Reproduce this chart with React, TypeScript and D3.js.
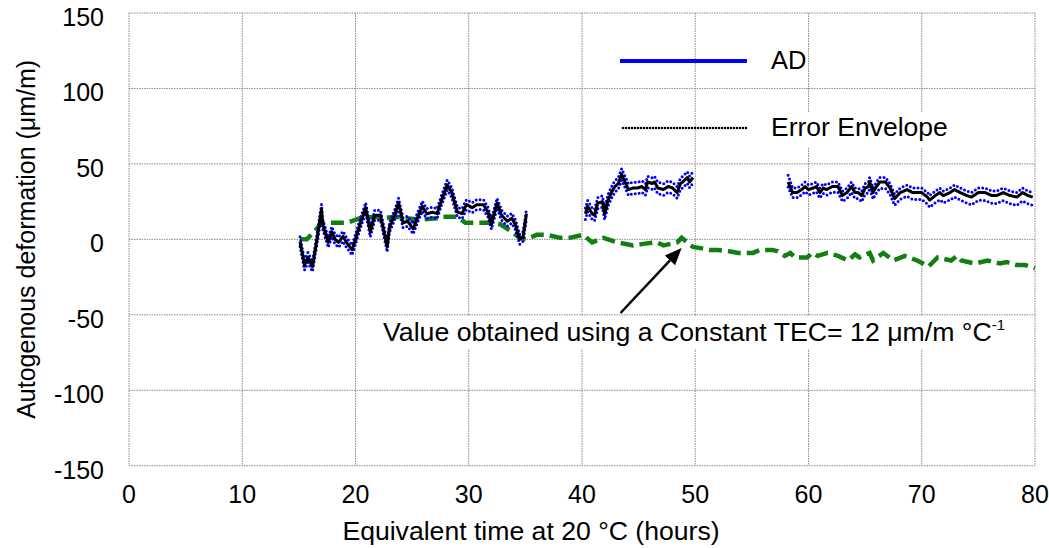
import React from "react";
import * as d3 from "d3";

// ---- data ----
const xTicks = [0, 10, 20, 30, 40, 50, 60, 70, 80];
const yTicks = [150, 100, 50, 0, -50, -100, -150];

const adTime1 = [15.1,15.5,15.8,16.2,16.6,17.0,17.1,17.6,17.9,18.2,18.5,18.9,19.2,19.7,20.0,20.4,20.9,21.3,21.7,22.2,22.8,23.0,23.5,23.8,24.2,24.6,25.1,25.4,25.9,26.3,26.8,27.2,27.6,28.1,28.5,29.0,29.4,29.8,30.3,30.7,31.3,31.7,32.0,32.5,32.9,33.4,33.8,34.1,34.5,34.8,35.1];
const adValue1 = [-1.5,-17,-12,-18,0,20,10,-2,5,0,-2,2,-2,-7,0,10,21,5,16,16,-5,8,17,24,11,12,7,13,22,17,18,17,26,36,31,18,17,23,21,23,23,18,10,24,16,12,14,10,0,2,17];
const errUp1 = [3.3];
const errDown1 = [3.3];

const adTime2 = [40.3,40.5,40.9,41.1,41.4,41.8,42.0,42.3,42.6,42.9,43.2,43.5,43.8,44.1,44.5,44.9,45.3,45.6,45.8,46.2,46.4,46.7,47.2,47.6,48.0,48.4,48.7,48.9,49.3,49.5,49.8];
const adValue2 = [17,22,17,16,24,25,17,26,31,35,37,43,38,33,34,34,35,33,38,37,38,34,33,35,34,31,37,38,41,38,41];
const errUp2 = [3.8];
const errDown2 = [3.8];

const adTime3 = [58.2,58.6,59.0,59.4,59.7,60.0,60.4,60.7,61.0,61.3,61.6,62.1,62.6,63.0,63.4,63.8,64.1,64.4,64.7,65.0,65.3,65.4,65.7,66.0,66.3,66.8,67.2,67.6,68.1,68.7,69.2,70.0,70.5,70.7,71.2,71.6,71.9,72.5,72.9,73.4,74.0,74.4,75.0,75.6,76.2,76.6,77.2,77.8,78.4,78.9,79.4,79.8];
const adValue3 = [38,31,31,33,35,33,34,35,31,34,33,35,35,29,31,35,31,31,29,34,35,38,31,35,38,38,34,27,31,33,31,31,28,26,29,31,29,31,33,31,29,28,31,31,29,29,31,29,28,31,29,28];
const errUp3 = [4.5,3.0,3.0,3.0,3.0,3.0,3.0,3.0,3.0,3.0,3.0,3.0,3.0,3.0,3.0,3.0,3.0,3.0,3.0,3.0,3.0,3.0,3.0,3.0,3.0,3.0,3.0,3.0,3.0,3.0,3.0,3.0,3.0,3.0,3.0,3.0,3.0,3.0,3.0,3.0,3.0,3.0,3.0,3.0,3.0,3.0,3.0,3.0,3.0,3.0,3.0,3.0];
const errDown3 = [3.3,3.3,3.3,3.4,3.4,3.5,3.5,3.5,3.6,3.6,3.7,3.7,3.8,3.8,3.9,3.9,4.0,4.0,4.0,4.1,4.1,4.1,4.2,4.2,4.2,4.3,4.3,4.4,4.4,4.5,4.5,4.6,4.6,4.7,4.7,4.8,4.8,4.9,4.9,5.0,5.0,5.1,5.1,5.2,5.2,5.3,5.3,5.4,5.4,5.5,5.5,5.5];

const tecTime = [15.1,15.7,16.7,17.1,18.5,19.3,20.4,21.7,22.4,23.5,24.5,25.7,27.2,27.7,29.0,29.7,31.0,31.9,32.8,33.6,34.5,35.1,36.0,36.9,38.1,38.9,40.1,40.9,41.9,43.1,44.5,45.4,46.6,47.2,48.4,48.8,49.8,50.6,51.3,52.0,53.1,53.8,55.1,55.7,56.8,57.3,57.9,58.4,58.8,59.9,60.3,60.8,61.7,62.6,63.5,64.1,64.5,65.4,65.7,66.6,67.5,68.5,69.6,70.6,71.4,72.6,73.1,73.5,74.7,75.8,76.9,77.5,78.4,79.1,80.0];
const tecValue = [0,0,8,11,11,11,14,15,14,15,14,13,14,15,15,11,11,11,10,6,1,0,3,3,1,1,3,-2,1,-2,-4,-3,-2,-4,-2,1,-5,-6,-7,-7,-8,-9,-9,-7,-7,-8,-11,-9,-12,-12,-9,-11,-9,-11,-14,-10,-12,-9,-14,-9,-14,-11,-14,-18,-12,-14,-11,-14,-16,-14,-16,-15,-17,-17,-19];

const legendLabels = ["AD", "Error Envelope"];
const xTitle = "Equivalent time at 20 °C (hours)";
const yTitle = "Autogenous deformation (μm/m)";
const noteText = "Value obtained using a Constant TEC= 12 μm/m °C";
const noteSup = "-1";
const arrowFrom = [43.4, -48.8];
const arrowTo = [48.8, -5.7];

type Pt = { t: number; v: number; up: number; dn: number };

function segment(ts: number[], vs: number[], up: number[], dn: number[]): Pt[] {
  return ts.map((t, i) => ({
    t,
    v: vs[i],
    up: up.length === 1 ? up[0] : up[i],
    dn: dn.length === 1 ? dn[0] : dn[i],
  }));
}

const FONT = "'Liberation Sans', Arial, sans-serif";

export default function App() {
  const W = 1049, H = 548;
  const x = d3.scaleLinear().domain([0, 80]).range([129, 1035]);
  const y = d3.scaleLinear().domain([-150, 150]).range([465.7, 13]);

  const segs = [
    segment(adTime1, adValue1, errUp1, errDown1),
    segment(adTime2, adValue2, errUp2, errDown2),
    segment(adTime3, adValue3, errUp3, errDown3),
  ];

  const lineMid = d3.line<Pt>().x(d => x(d.t)).y(d => y(d.v));
  const lineUp = d3.line<Pt>().x(d => x(d.t)).y(d => y(d.v + d.up));
  const lineDn = d3.line<Pt>().x(d => x(d.t)).y(d => y(d.v - d.dn));
  const tecPts = tecTime.map((t, i) => [x(t), y(tecValue[i])] as [number, number]);
  const tecLine = d3.line()(tecPts) || "";

  const grid = "#8a8a8a";
  const x0 = x(0), x1 = x(80), yTop = y(150), yBot = y(-150);

  const ax = x(arrowFrom[0]), ay = y(arrowFrom[1]);
  const bx = x(arrowTo[0]), by = y(arrowTo[1]);
  const ang = Math.atan2(by - ay, bx - ax);
  const hl = 17, hw = 7;
  const hx = bx - hl * Math.cos(ang), hy = by - hl * Math.sin(ang);
  const head = `M${bx},${by} L${hx + hw * Math.sin(ang)},${hy - hw * Math.cos(ang)} L${hx - hw * Math.sin(ang)},${hy + hw * Math.cos(ang)} Z`;

  return (
    <svg width={W} height={H} style={{ position: "absolute", left: 0, top: 0, background: "#fff" }} fontFamily={FONT}>
      <rect x={0} y={0} width={W} height={H} fill="#fff" />
      {/* grid */}
      {xTicks.map(t => (
        <line key={"gx" + t} x1={x(t)} x2={x(t)} y1={yTop} y2={yBot} stroke={grid} strokeWidth={1} strokeDasharray="1.5,1" />
      ))}
      {yTicks.map(t => (
        <line key={"gy" + t} x1={x0} x2={x1} y1={y(t)} y2={y(t)} stroke={grid} strokeWidth={1} strokeDasharray="1.5,1" />
      ))}

      {/* legend */}
      <line x1={620} x2={747} y1={61} y2={61} stroke="#0000ff" strokeWidth={4} />
      <rect x={766} y={45} width={42} height={30} fill="#fff" />
      <text x={771} y={69} fontSize={25.5} fill="#000">{legendLabels[0]}</text>
      <line x1={623} x2={748} y1={128} y2={128} stroke="#000" strokeWidth={2.6} strokeDasharray="0,3" strokeLinecap="round" />
      <rect x={764} y={113} width={192} height={34} fill="#fff" />
      <text x={771} y={136} fontSize={26.5} fill="#000">{legendLabels[1]}</text>

      {/* TEC constant curve */}
      <path d={tecLine} fill="none" stroke="#137f13" strokeWidth={4.5} strokeDasharray="13,6" />

      {/* AD with envelope */}
      {segs.map((s, i) => (
        <g key={"s" + i}>
          <path d={lineUp(s) || ""} fill="none" stroke="#0000ff" strokeWidth={3} strokeDasharray="0,4" strokeLinecap="round" strokeLinejoin="round" />
          <path d={lineDn(s) || ""} fill="none" stroke="#0000ff" strokeWidth={3} strokeDasharray="0,4" strokeLinecap="round" strokeLinejoin="round" />
          <path d={lineMid(s) || ""} fill="none" stroke="#000" strokeWidth={3} strokeLinejoin="round" />
        </g>
      ))}

      {/* annotation */}
      <rect x={378} y={316} width={634} height={33} fill="#fff" />
      <line x1={ax} y1={ay} x2={hx} y2={hy} stroke="#000" strokeWidth={2.5} />
      <path d={head} fill="#000" />
      <text x={383} y={341} fontSize={26.7} fill="#000">
        {noteText}
        <tspan fontSize={15} dy={-11}>{noteSup}</tspan>
      </text>

      {/* axes tick labels */}
      {xTicks.map(t => (
        <text key={"xl" + t} x={x(t)} y={503} fontSize={25} textAnchor="middle" fill="#000">{t}</text>
      ))}
      {yTicks.map(t => (
        <text key={"yl" + t} x={104} y={y(t) + 13} fontSize={25} textAnchor="end" fill="#000">{t}</text>
      ))}

      {/* titles */}
      <text x={531} y={540} fontSize={26.6} textAnchor="middle" fill="#000">{xTitle}</text>
      <text transform={`translate(35,${(yTop + yBot) / 2}) rotate(-90)`} fontSize={25} textAnchor="middle" fill="#000">{yTitle}</text>
    </svg>
  );
}
